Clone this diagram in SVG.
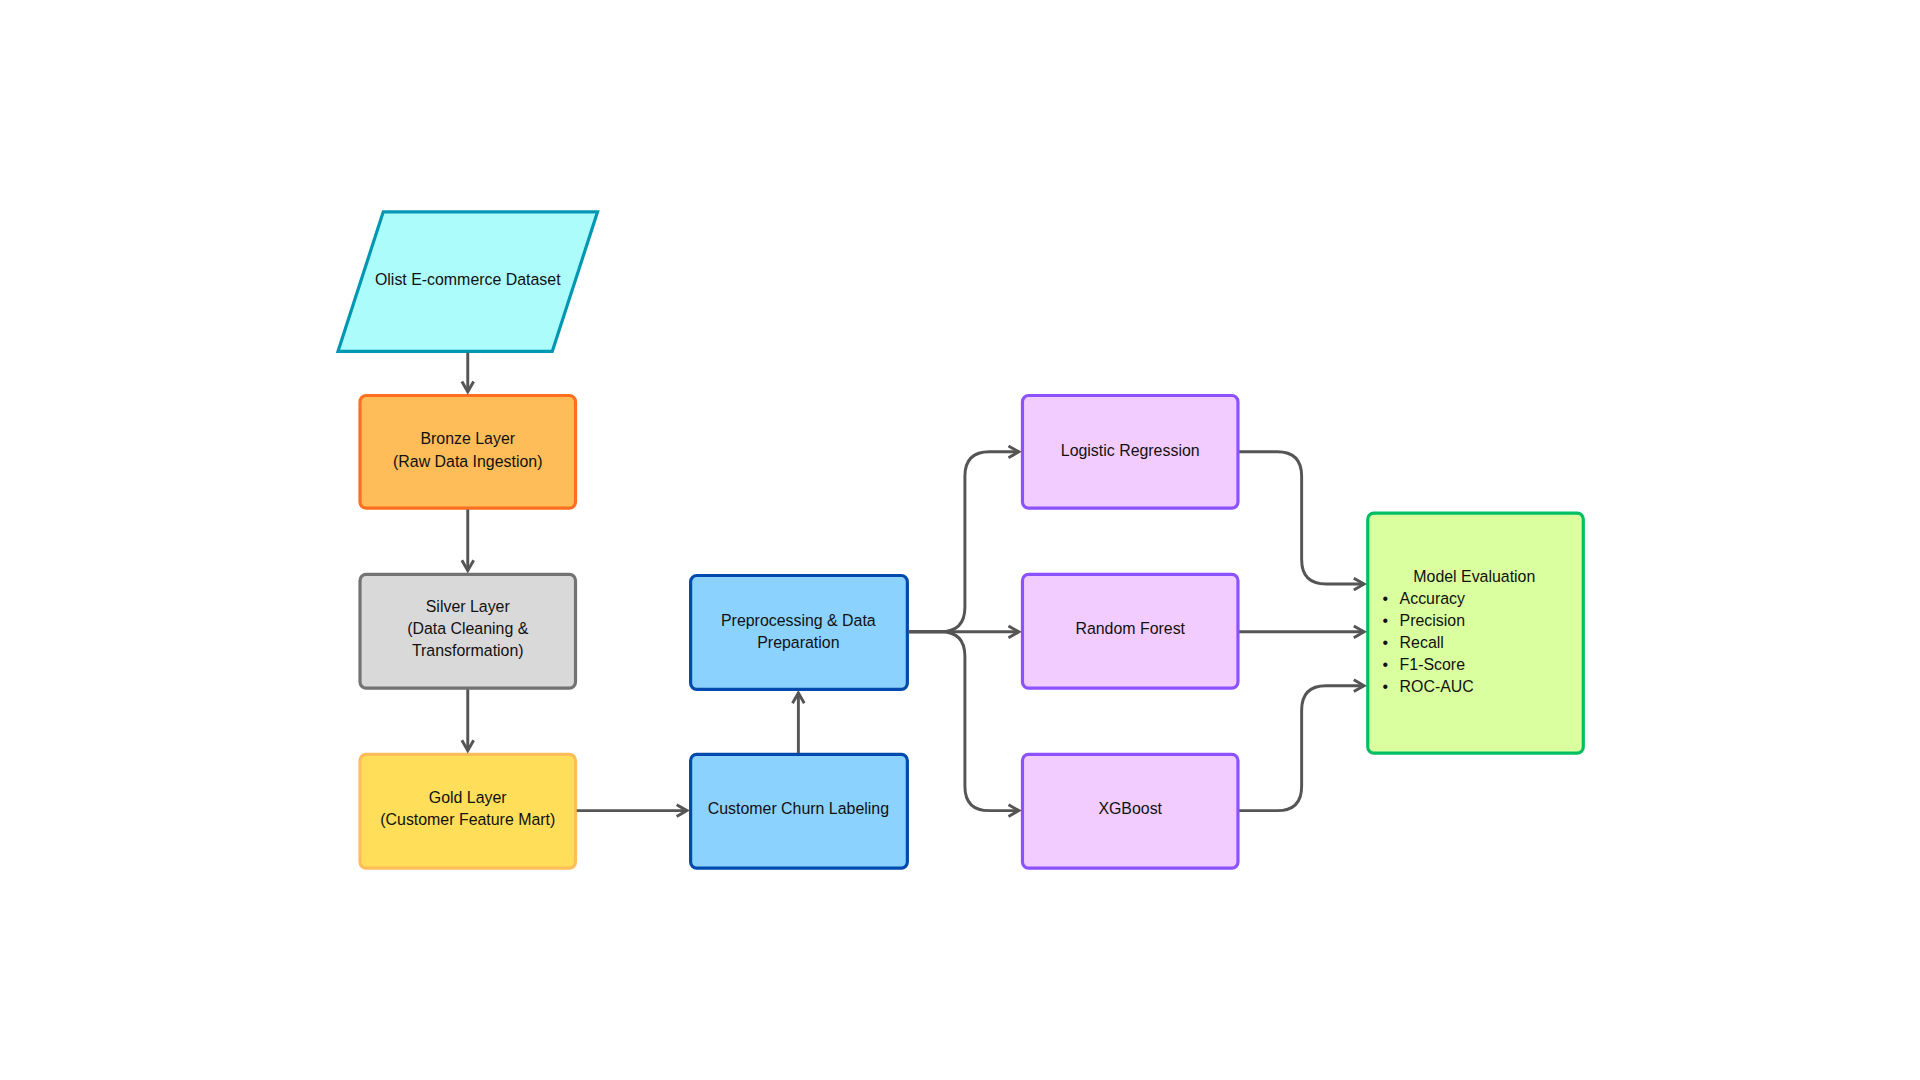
<svg xmlns="http://www.w3.org/2000/svg" width="1920" height="1080" viewBox="0 0 1920 1080">
<style>
text{font-family:"Liberation Sans",Arial,sans-serif;font-size:13px;fill:#111;text-anchor:middle}
.n{stroke-width:2.6}
.c{fill:none;stroke:#555;stroke-width:2.4;marker-end:url(#a)}
</style>
<defs><marker id="a" viewBox="0 0 10 10" refX="8" refY="5" markerWidth="5" markerHeight="5" orient="auto"><path d="M1,1 L8,5 L1,9" fill="none" stroke="#555" stroke-width="2"/></marker></defs>
<rect width="1920" height="1080" fill="#fff"/>
<g transform="scale(1.2245)">
<g id="dataset"><polygon class="n" points="313,173 488,173 451,287 276,287" fill="#adfcfc" stroke="#0097b2"/><text x="382" y="233">Olist E-commerce Dataset</text></g>
<g id="bronze"><rect class="n" x="294" y="323" width="176" height="92" rx="5" fill="#ffbd59" stroke="#ff6f1f"/><text x="382" y="363">Bronze Layer</text><text x="382" y="381">(Raw Data Ingestion)</text></g>
<g id="silver"><rect class="n" x="294" y="469" width="176" height="93" rx="5" fill="#d9d9d9" stroke="#737373"/><text x="382" y="500">Silver Layer</text><text x="382" y="518">(Data Cleaning &amp;</text><text x="382" y="536">Transformation)</text></g>
<g id="gold"><rect class="n" x="294" y="616" width="176" height="93" rx="5" fill="#ffde59" stroke="#ffbd59"/><text x="382" y="656">Gold Layer</text><text x="382" y="674">(Customer Feature Mart)</text></g>
<g id="prep"><rect class="n" x="564" y="470" width="177" height="93" rx="5" fill="#8cd2ff" stroke="#004aad"/><text x="652" y="511">Preprocessing &amp; Data</text><text x="652" y="529">Preparation</text></g>
<g id="churn"><rect class="n" x="564" y="616" width="177" height="93" rx="5" fill="#8cd2ff" stroke="#004aad"/><text x="652" y="665">Customer Churn Labeling</text></g>
<g id="lr"><rect class="n" x="835" y="323" width="176" height="92" rx="5" fill="#f3ccff" stroke="#8c52ff"/><text x="923" y="372">Logistic Regression</text></g>
<g id="rf"><rect class="n" x="835" y="469" width="176" height="93" rx="5" fill="#f3ccff" stroke="#8c52ff"/><text x="923" y="518">Random Forest</text></g>
<g id="xgb"><rect class="n" x="835" y="616" width="176" height="93" rx="5" fill="#f3ccff" stroke="#8c52ff"/><text x="923" y="665">XGBoost</text></g>
<g id="eval"><rect class="n" x="1117" y="419" width="176" height="196" rx="5" fill="#d9ff9e" stroke="#00bf63"/><text x="1204" y="475">Model Evaluation</text>
<g style="text-anchor:start"><text x="1129" y="493" style="text-anchor:start">•</text><text x="1143" y="493" style="text-anchor:start">Accuracy</text>
<text x="1129" y="511" style="text-anchor:start">•</text><text x="1143" y="511" style="text-anchor:start">Precision</text>
<text x="1129" y="529" style="text-anchor:start">•</text><text x="1143" y="529" style="text-anchor:start">Recall</text>
<text x="1129" y="547" style="text-anchor:start">•</text><text x="1143" y="547" style="text-anchor:start">F1-Score</text>
<text x="1129" y="565" style="text-anchor:start">•</text><text x="1143" y="565" style="text-anchor:start">ROC-AUC</text></g></g>
<g id="connectors">
<path class="c" d="M382,288 V320"/>
<path class="c" d="M382,416 V466"/>
<path class="c" d="M382,563 V613"/>
<path class="c" d="M471,662 H561"/>
<path class="c" d="M652,615 V566"/>
<path class="c" d="M742,516 H768 Q788,516 788,496 V389 Q788,369 808,369 H832"/>
<path class="c" d="M742,516 H832"/>
<path class="c" d="M742,516 H768 Q788,516 788,536 V642 Q788,662 808,662 H832"/>
<path class="c" d="M1012,369 H1043 Q1063,369 1063,389 V457 Q1063,477 1083,477 H1114"/>
<path class="c" d="M1012,516 H1114"/>
<path class="c" d="M1012,662 H1043 Q1063,662 1063,642 V580 Q1063,560 1083,560 H1114"/>
</g>
</g>
</svg>
